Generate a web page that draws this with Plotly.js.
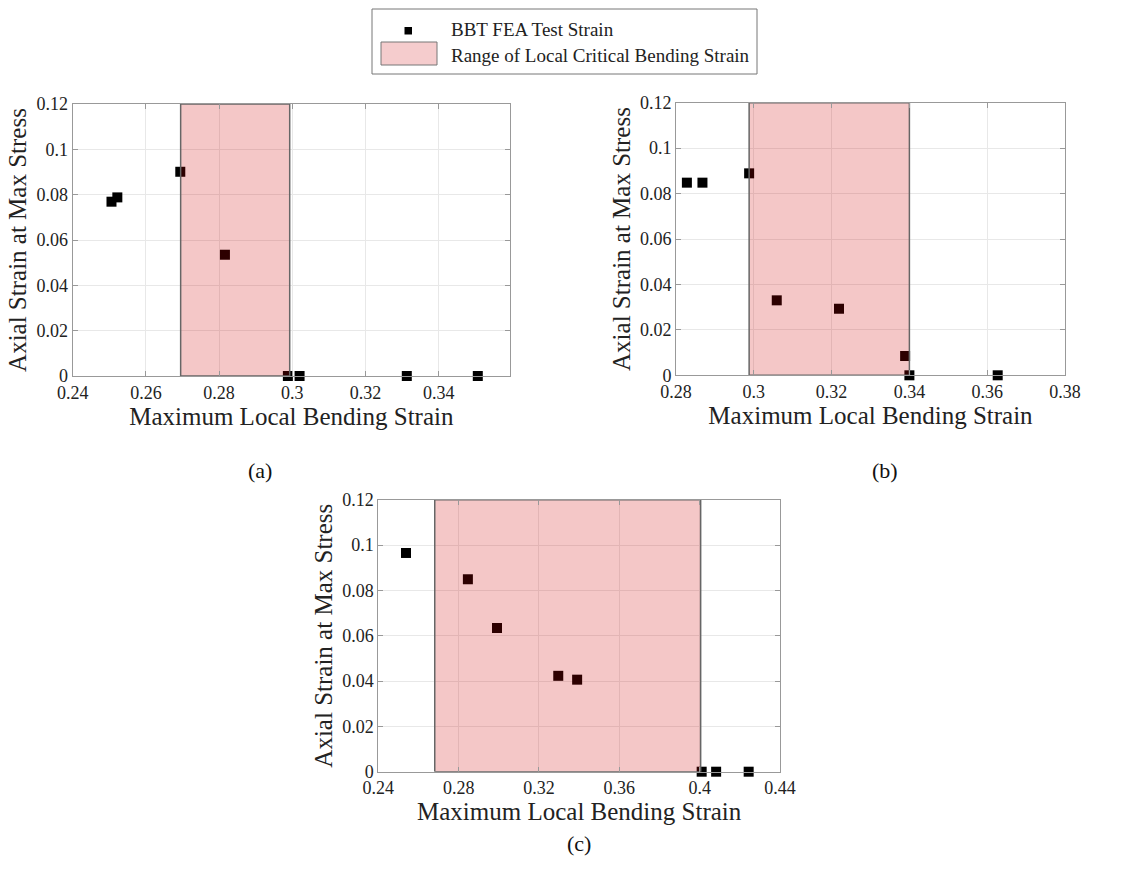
<!DOCTYPE html>
<html>
<head>
<meta charset="utf-8">
<script src="https://cdn.plot.ly/plotly-3.0.1.min.js"></script>
<style>html,body{margin:0;padding:0;background:#fff;}#chart{width:1146px;height:880px;}</style>
</head>
<body>
<div id="chart"></div>
<script>
// Panel (a)
const xA = [0.2506, 0.2522, 0.2694, 0.2816, 0.2988, 0.3020, 0.3313, 0.3507];
const yA = [0.0769, 0.0788, 0.0901, 0.0535, 0, 0, 0, 0];
const rangeA = [0.2695, 0.2993];
// Panel (b)
const xB = [0.2828, 0.2868, 0.2988, 0.3059, 0.3219, 0.3389, 0.3400, 0.3627];
const yB = [0.0848, 0.0848, 0.0889, 0.0330, 0.0293, 0.0085, 0, 0];
const rangeB = [0.2988, 0.3400];
// Panel (c)
const xC = [0.2538, 0.2846, 0.2991, 0.3296, 0.3390, 0.4010, 0.4082, 0.4244];
const yC = [0.0965, 0.0849, 0.0634, 0.0423, 0.0406, 0, 0, 0];
const rangeC = [0.2681, 0.4005];

const yRange = [0, 0.12];
const yTicks = [0, 0.02, 0.04, 0.06, 0.08, 0.1, 0.12];
const xTicksA = [0.24, 0.26, 0.28, 0.3, 0.32, 0.34, 0.36];
const xTicksB = [0.28, 0.3, 0.32, 0.34, 0.36, 0.38];
const xTicksC = [0.24, 0.28, 0.32, 0.36, 0.4, 0.44];

const seriesName = 'BBT FEA Test Strain';
const rangeName = 'Range of Local Critical Bending Strain';
const xTitle = 'Maximum Local Bending Strain';
const yTitle = 'Axial Strain at Max Stress';
const captions = ['(a)', '(b)', '(c)'];

const FONT = 'Liberation Serif';
const fillColor = 'rgba(204,0,0,0.22)';
const edgeColor = '#666666';

function rectTrace(r, xa, ya) {
  return {
    type: 'scatter', mode: 'lines',
    x: [r[0], r[1], r[1], r[0], r[0]],
    y: [yRange[0], yRange[0], yRange[1], yRange[1], yRange[0]],
    fill: 'toself', fillcolor: fillColor,
    line: {color: edgeColor, width: 1.5},
    xaxis: xa, yaxis: ya, name: rangeName, showlegend: false,
    hoverinfo: 'skip'
  };
}
function ptTrace(xs, ys, xa, ya) {
  return {
    type: 'scatter', mode: 'markers', x: xs, y: ys,
    marker: {symbol: 'square', size: 10, color: '#000000'},
    xaxis: xa, yaxis: ya, name: seriesName, showlegend: false,
    cliponaxis: false
  };
}

const data = [
  ptTrace(xA, yA, 'x', 'y'), rectTrace(rangeA, 'x', 'y'),
  ptTrace(xB, yB, 'x2', 'y2'), rectTrace(rangeB, 'x2', 'y2'),
  ptTrace(xC, yC, 'x3', 'y3'), rectTrace(rangeC, 'x3', 'y3')
];

function xaxis(dom, range, ticks, anchor) {
  return {
    domain: dom, range: range, anchor: anchor,
    tickvals: ticks, ticks: 'inside', ticklen: 5, tickcolor: '#999',
    showline: true, linecolor: '#999', linewidth: 1, mirror: 'ticks',
    showgrid: true, gridcolor: '#e8e8e8', gridwidth: 1, zeroline: false,
    tickfont: {family: FONT, size: 18, color: '#222'},
    title: {text: xTitle, font: {family: FONT, size: 25, color: '#222'}, standoff: 4},
    automargin: false
  };
}
function yaxis(dom, anchor) {
  return {
    domain: dom, range: yRange, anchor: anchor,
    tickvals: yTicks, ticks: 'inside', ticklen: 5, tickcolor: '#999',
    showline: true, linecolor: '#999', linewidth: 1, mirror: 'ticks',
    showgrid: true, gridcolor: '#e8e8e8', gridwidth: 1, zeroline: false,
    tickfont: {family: FONT, size: 18, color: '#222'},
    title: {text: yTitle, font: {family: FONT, size: 25, color: '#222'}, standoff: 2},
    automargin: false
  };
}

const W = 1146, H = 880;
const px = v => v / W, py = v => 1 - v / H;

// legend drawn in paper space
const legendShapes = [
  {type: 'rect', xref: 'paper', yref: 'paper', x0: px(372), x1: px(757), y0: py(9), y1: py(74),
   line: {color: '#777', width: 1}, fillcolor: '#fff', layer: 'above'},
  {type: 'rect', xref: 'paper', yref: 'paper', x0: px(404.5), x1: px(412), y0: py(27), y1: py(34.5),
   line: {width: 0}, fillcolor: '#000', layer: 'above'},
  {type: 'rect', xref: 'paper', yref: 'paper', x0: px(381), x1: px(437), y0: py(42), y1: py(65),
   line: {color: '#777', width: 1}, fillcolor: 'rgb(245,204,205)', layer: 'above'}
];

const capFont = {family: FONT, size: 22, color: '#111'};
const layout = {
  width: W, height: H,
  margin: {l: 0, r: 0, t: 0, b: 0},
  paper_bgcolor: '#fff', plot_bgcolor: '#fff',
  font: {family: FONT, color: '#222'},
  showlegend: false,
  xaxis: xaxis([px(72.7), px(510)], [0.24, 0.3595], xTicksA, 'y'),
  yaxis: yaxis([py(376), py(104)], 'x'),
  xaxis2: xaxis([px(676), px(1065)], [0.28, 0.38], xTicksB, 'y2'),
  yaxis2: yaxis([py(375.3), py(102.7)], 'x2'),
  xaxis3: xaxis([px(378.3), px(780)], [0.24, 0.44], xTicksC, 'y3'),
  yaxis3: yaxis([py(771.7), py(499.7)], 'x3'),
  shapes: legendShapes,
  annotations: [
    {text: seriesName, x: px(449), y: py(30), xref: 'paper', yref: 'paper', xanchor: 'left', yanchor: 'middle', showarrow: false, font: {family: FONT, size: 19, color: '#222'}},
    {text: rangeName, x: px(449), y: py(55), xref: 'paper', yref: 'paper', xanchor: 'left', yanchor: 'middle', showarrow: false, font: {family: FONT, size: 19, color: '#222'}},
    {text: captions[0], x: px(260), y: py(470), xref: 'paper', yref: 'paper', xanchor: 'center', yanchor: 'middle', showarrow: false, font: capFont},
    {text: captions[1], x: px(885), y: py(470), xref: 'paper', yref: 'paper', xanchor: 'center', yanchor: 'middle', showarrow: false, font: capFont},
    {text: captions[2], x: px(579), y: py(843), xref: 'paper', yref: 'paper', xanchor: 'center', yanchor: 'middle', showarrow: false, font: capFont}
  ]
};

Plotly.newPlot('chart', data, layout, {displayModeBar: false, staticPlot: true});
</script>
</body>
</html>
